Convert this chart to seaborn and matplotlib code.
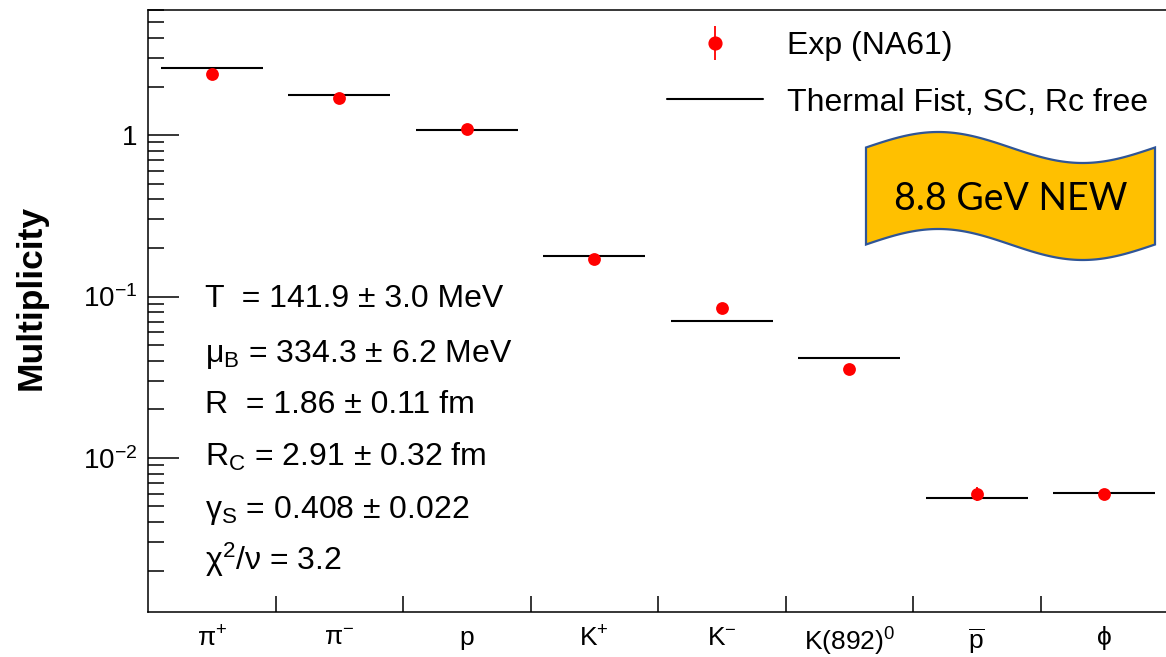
import numpy as np
import pandas as pd
import matplotlib
matplotlib.use("Agg")
import matplotlib.pyplot as plt
import seaborn as sns
from matplotlib.lines import Line2D
from matplotlib.patches import Polygon
from matplotlib.legend_handler import HandlerTuple
from matplotlib.ticker import FixedLocator, FixedFormatter, NullFormatter, LogLocator

# ---------------- data ----------------
particles = [r"$\mathregular{\pi^{+}}$", r"$\mathregular{\pi^{-}}$", "p",
             r"$\mathregular{K^{+}}$", r"$\mathregular{K^{-}}$",
             r"$\mathregular{K(892)^{0}}$", r"$\mathregular{\overline{p}}$", "ϕ"]
exp_values = [2.40, 1.69, 1.09, 0.171, 0.0845, 0.0356, 0.00598, 0.00598]
exp_errors = [0.10, 0.07, 0.04, 0.006, 0.003, 0.0012, 0.0006, 0.0004]
thermal_values = [2.60, 1.76, 1.08, 0.179, 0.0705, 0.0416, 0.00565, 0.00605]
ytick_values = [0.01, 0.1, 1.0]
ytick_labels = [r"$\mathregular{10^{-2}}$", r"$\mathregular{10^{-1}}$", "1"]
fit_lines = [r"T  = 141.9 ± 3.0 MeV",
             r"$\mathregular{\mu_{B}}$ = 334.3 ± 6.2 MeV",
             r"R  = 1.86 ± 0.11 fm",
             r"$\mathregular{R_{C}}$ = 2.91 ± 0.32 fm",
             r"$\mathregular{\gamma_{S}}$ = 0.408 ± 0.022",
             r"$\mathregular{\chi^{2}/\nu}$ = 3.2"]
legend_labels = ["Exp (NA61)", "Thermal Fist, SC, Rc free"]
banner_text = "8.8 GeV NEW"

# ---------------- style ----------------
sns.set_theme(style="ticks")
plt.rcParams["font.family"] = ["Liberation Sans", "DejaVu Sans"]
plt.rcParams["mathtext.fontset"] = "custom"
plt.rcParams["mathtext.rm"] = "Liberation Sans"
plt.rcParams["mathtext.it"] = "Liberation Sans:italic"
plt.rcParams["mathtext.bf"] = "Liberation Sans:bold"
for k in ["text.color", "axes.labelcolor", "xtick.color", "ytick.color",
          "xtick.labelcolor", "ytick.labelcolor", "axes.edgecolor"]:
    plt.rcParams[k] = "black"

W, H = 1166, 657
fig = plt.figure(figsize=(W / 100, H / 100), dpi=100)
ax = fig.add_axes([148 / W, (H - 612) / H, 1020 / W, 602.5 / H])

n = len(particles)
idx = np.arange(n)
df = pd.DataFrame({"bin": idx + 0.5, "exp": exp_values, "err": exp_errors,
                   "thermal": thermal_values})

# thermal model: horizontal segments across each bin
ax.hlines(df["thermal"], idx + 0.1, idx + 0.9, colors="black", linewidth=1.5, zorder=2)
# experimental points with error bars
ax.errorbar(df["bin"], df["exp"], yerr=df["err"], fmt="none", ecolor="red",
            elinewidth=1.3, zorder=3)
sns.scatterplot(data=df, x="bin", y="exp", ax=ax, color="red", s=85,
                linewidth=0, zorder=4, legend=False)

ax.set_yscale("log")
ax.set_ylim(0.00111, 6.0)
ax.set_xlim(0, n)
ax.set_xlabel("")
ax.set_ylabel("")

# y ticks
ax.yaxis.set_major_locator(FixedLocator(ytick_values))
ax.yaxis.set_major_formatter(FixedFormatter(ytick_labels))
ax.yaxis.set_minor_locator(LogLocator(base=10, subs=np.arange(2, 10)))
ax.yaxis.set_minor_formatter(NullFormatter())
ax.tick_params(axis="y", which="major", direction="in", length=22, width=1.1,
               labelsize=20, pad=8, colors="black", left=True, right=False)
ax.tick_params(axis="y", which="minor", direction="in", length=11.5, width=1.1,
               left=True, right=False, colors="black")

# x ticks: bin edges as ticks, labels at bin centres
ax.set_xticks(idx[1:])
ax.set_xticklabels([])
ax.set_xticks(idx + 0.5, minor=True)
ax.set_xticklabels(particles, minor=True)
ax.tick_params(axis="x", which="major", direction="in", length=11.5, width=1.1,
               bottom=True, top=False, colors="black")
ax.tick_params(axis="x", which="minor", length=0, labelsize=19, pad=10, colors="black")

for s in ax.spines.values():
    s.set_color("black")
    s.set_linewidth(1.1)

fig.text(31 / W, (H - 298) / H, "Multiplicity", rotation=90, ha="center",
         va="center", fontsize=25.5, fontweight="bold", color="black")

# fit parameters
baselines = [307, 362, 413, 466, 518, 570]
for txt, yb in zip(fit_lines, baselines):
    ax.text((205 - 148) / 1020, (612 - yb) / 602.5, txt, transform=ax.transAxes,
            fontsize=23, ha="left", va="baseline", color="black")

# legend
dot = Line2D([], [], ls="", marker="o", ms=9.2, mfc="red", mec="red")
bar = Line2D([], [], ls="", marker="|", ms=24, mew=1.3, color="red")
thr = Line2D([], [], color="black", lw=1.5)
ax.legend([(bar, dot), thr], legend_labels, handler_map={tuple: HandlerTuple(ndivide=1)},
          loc="upper left", bbox_to_anchor=(667 / W, (H - 31) / H),
          bbox_transform=fig.transFigure, frameon=False, fontsize=23,
          handlelength=3.0, handletextpad=0.75, labelspacing=0.83,
          borderpad=0, borderaxespad=0, labelcolor="black")

# banner (wavy flag)
xs = np.linspace(866, 1155, 120)
top = 147.5 - 15.5 * np.sin(2 * np.pi * (xs - 866) / 289)
bot = top + 97
pts = np.concatenate([np.column_stack([xs, top]), np.column_stack([xs[::-1], bot[::-1]])])
pts_fig = np.column_stack([pts[:, 0] / W, (H - pts[:, 1]) / H])
fig.patches.append(Polygon(pts_fig, closed=True, transform=fig.transFigure,
                           facecolor="#FFC000", edgecolor="#2F5597", linewidth=1.6))
fig.text(1011 / W, (H - 210) / H, banner_text, ha="center", va="baseline",
         fontsize=27, family=["Lato", "DejaVu Sans"], color="black")

fig.savefig("out.png", dpi=100)
